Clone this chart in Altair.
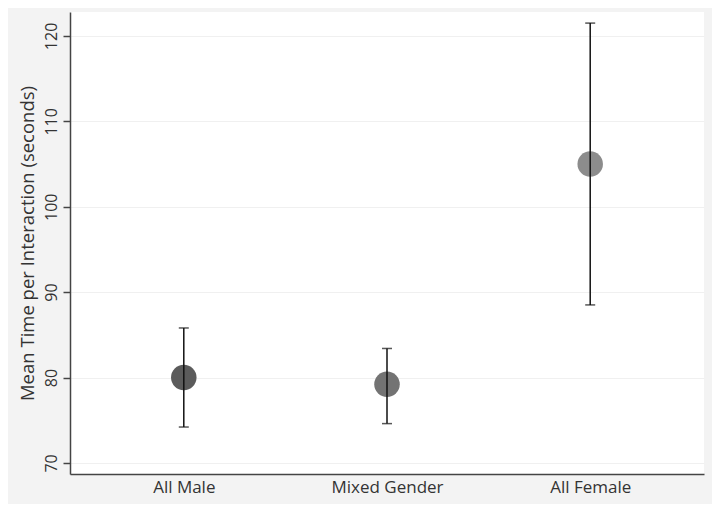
import altair as alt
import pandas as pd

groups = ["All Male", "Mixed Gender", "All Female"]
means = [80.0, 79.2, 105.0]
lower = [74.2, 74.6, 88.5]
upper = [85.8, 83.4, 121.5]
colors = ["#5b5b5b", "#737373", "#8c8c8c"]
y_ticks = [70, 80, 90, 100, 110, 120]

df = pd.DataFrame({"group": groups, "mean": means, "lo": lower, "hi": upper, "color": colors})

FONT = "Open Sans"

x_axis = alt.Axis(labelAngle=0, labelAlign="center", labelBaseline="top", ticks=False,
                  labelFontSize=17, labelFont=FONT, labelColor="#333333",
                  domainColor="#444444", domainWidth=1.5, labelPadding=5, grid=False)
xscale = alt.Scale(type="point", padding=0.56)
yscale = alt.Scale(domain=[68.7, 122.8], nice=False, zero=False)

def X():
    return alt.X("group:N", sort=groups, title=None, scale=xscale, axis=x_axis)

y_axis = alt.Axis(values=y_ticks, labelAngle=270, labelAlign="center",
                  labelBaseline="bottom", labelFontSize=16, labelFont=FONT,
                  labelColor="#333333", tickSize=7, tickColor="#444444",
                  tickWidth=1.5, domainColor="#444444", domainWidth=1.5,
                  labelPadding=4, gridColor="#f0f0f0", gridWidth=1,
                  titleFontSize=18.5, titleFont=FONT, titleFontWeight="normal",
                  titleColor="#333333", titlePadding=6)
TITLE = "Mean Time per Interaction (seconds)"

base = alt.Chart(df)

rule = base.mark_rule(color="#111111", strokeWidth=1.5).encode(
    x=X(),
    y=alt.Y("lo:Q", scale=yscale, title=TITLE, axis=y_axis),
    y2="hi:Q",
)
cap_lo = base.mark_tick(color="#111111", thickness=1.5, size=10, orient="horizontal").encode(
    x=X(), y=alt.Y("lo:Q", scale=yscale, title=TITLE, axis=y_axis))
cap_hi = base.mark_tick(color="#111111", thickness=1.5, size=10, orient="horizontal").encode(
    x=X(), y=alt.Y("hi:Q", scale=yscale, title=TITLE, axis=y_axis))
pts = base.mark_circle(size=650, opacity=1).encode(
    x=X(),
    y=alt.Y("mean:Q", scale=yscale, title=TITLE, axis=y_axis),
    color=alt.Color("color:N", scale=None),
)

chart = alt.layer(pts, rule, cap_lo, cap_hi).properties(
    width=634, height=462,
    background="#f3f3f3",
    autosize=alt.AutoSizeParams(type="none"),
    padding={"left": 62, "top": 4, "right": 8, "bottom": 30},
).configure_view(fill="white", stroke=None)

chart.save("out.html", embed_options={"renderer": "svg", "actions": False})
